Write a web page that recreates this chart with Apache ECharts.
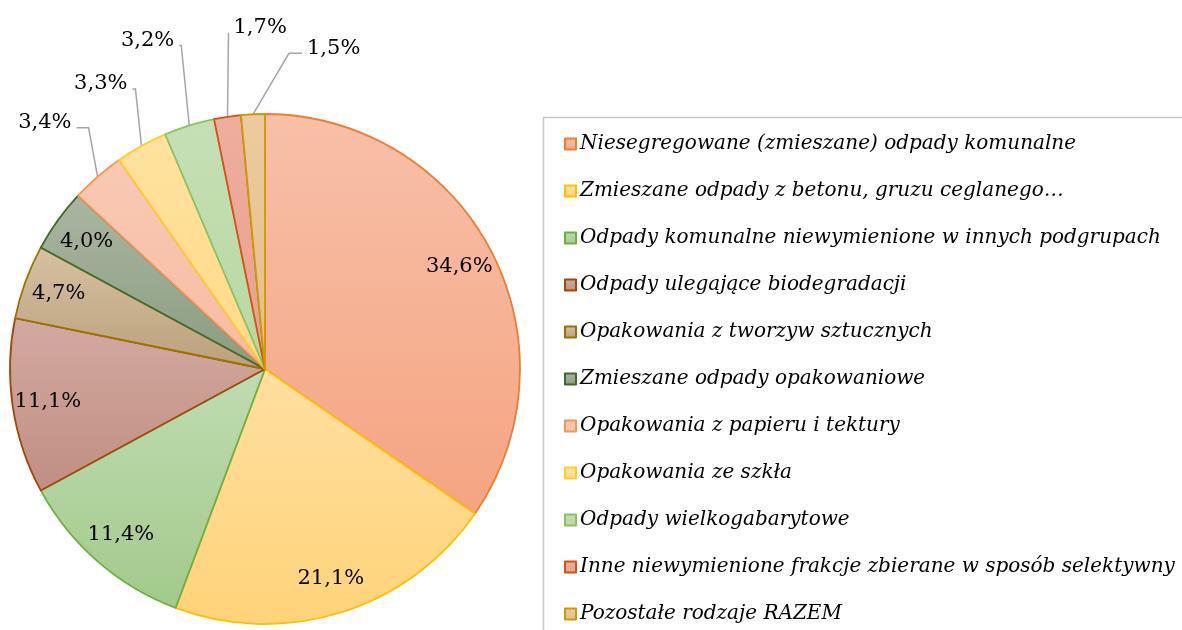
<!DOCTYPE html>
<html>
<head>
<meta charset="utf-8">
<script src="https://cdn.jsdelivr.net/npm/echarts@6/dist/echarts.min.js"></script>
<style>html,body{margin:0;padding:0;background:#fff}#c{width:1182px;height:630px}</style>
</head>
<body>
<div id="c"></div>
<script>
const categories = [
  'Niesegregowane (zmieszane) odpady komunalne',
  'Zmieszane odpady z betonu, gruzu ceglanego…',
  'Odpady komunalne niewymienione w innych podgrupach',
  'Odpady ulegające biodegradacji',
  'Opakowania z tworzyw sztucznych',
  'Zmieszane odpady opakowaniowe',
  'Opakowania z papieru i tektury',
  'Opakowania ze szkła',
  'Odpady wielkogabarytowe',
  'Inne niewymienione frakcje zbierane w sposób selektywny',
  'Pozostałe rodzaje RAZEM'
];
const values = [34.6, 21.1, 11.4, 11.1, 4.7, 4.0, 3.4, 3.3, 3.2, 1.7, 1.5];

const fillTop =    ['#F8C0A8','#FFDFA0','#C0DCB2','#D2AAA2','#D6C1A2','#AAB6A2','#F9C9B4','#FFE29E','#C6E0B6','#EEAE9E','#EDCB9E'];
const fillBottom = ['#F5A482','#FFD379','#A2CA8B','#C18E82','#BBA07B','#8A9C80','#F7BCA2','#FFDB88','#B6D8A0','#E9A08D','#E4BE8C'];
const borders =    ['#ED7D31','#FFC000','#70AD47','#9E480E','#997300','#43682B','#F1975A','#FFCD33','#8CC168','#D0541A','#CC9A06'];

// leader-line styling for the small outside labels: [elbow dx, elbow dy, horizontal run, side]
const leaderStyle = {
  6: [-9, -49, -12, 'right'],
  7: [-6, -57, -3, 'right'],
  8: [-8, -80, -2, 'right'],
  9: [1, -84, 0, 'left'],
  10: [36, -61, 13, 'left']
};

const fmt = v => v.toFixed(1).replace('.', ',') + '%';
const insideCount = 6;

const mainData = values.map((v, i) => ({
  name: categories[i],
  value: v,
  itemStyle: {
    color: {type:'linear', x:0, y:0, x2:0, y2:1, colorStops:[{offset:0,color:fillTop[i]},{offset:1,color:fillBottom[i]}]},
    borderColor: borders[i],
    borderWidth: 1.8
  },
  label: { show: i >= insideCount },
  labelLine: { show: i >= insideCount }
}));

const labelData = values.map((v, i) => ({
  name: categories[i],
  value: v,
  label: { show: i < insideCount }
}));

const chart = echarts.init(document.getElementById('c'), null, {renderer:'canvas'});
chart.setOption({
  animation: false,
  backgroundColor: '#fff',
  graphic: [{
    type: 'polyline',
    silent: true,
    shape: { points: [[1190, 117.5], [543.5, 117.5], [543.5, 640]] },
    style: { stroke: '#C8C8C8', lineWidth: 1.5, fill: null }
  }],
  legend: {
    data: categories,
    orient: 'vertical',
    left: 543,
    top: 117,
    height: 600,
    padding: [15, 0, 0, 21],
    icon: 'rect',
    itemWidth: 11,
    itemHeight: 11,
    itemGap: 23,
    selectedMode: false,
    textStyle: {
      fontFamily: 'DejaVu Serif',
      fontStyle: 'italic',
      fontSize: 20,
      lineHeight: 24,
      color: '#000',
      padding: [0,0,0,-1]
    }
  },
  series: [
    {
      type: 'pie',
      center: [265, 369],
      radius: 255,
      startAngle: 90,
      clockwise: true,
      silent: true,
      data: mainData,
      label: {
        position: 'outside',
        formatter: p => fmt(p.value),
        fontFamily: 'DejaVu Serif',
        fontSize: 21,
        color: '#000',
        overflow: 'none'
      },
      labelLine: {
        length: 30,
        length2: 10,
        lineStyle: { color: '#A6A6A6', width: 1.5 }
      },
      labelLayout: function (params) {
        const s = leaderStyle[params.dataIndex];
        if (!s || !params.labelLinePoints) return {};
        const p0 = params.labelLinePoints[0];
        const p1 = [p0[0] + s[0], p0[1] + s[1]];
        const p2 = [p1[0] + s[2], p1[1]];
        const gap = s[3] === 'right' ? -5 : 5;
        return {
          x: p2[0] + gap,
          y: p2[1] - 5,
          width: 80,
          align: s[3],
          verticalAlign: 'middle',
          labelLinePoints: [p0, p1, p2]
        };
      }
    },
    {
      type: 'pie',
      center: [265, 369],
      radius: [178, 255],
      startAngle: 90,
      clockwise: true,
      silent: true,
      data: labelData,
      itemStyle: { color: 'rgba(0,0,0,0)', borderWidth: 0 },
      label: {
        position: 'inside',
        formatter: p => fmt(p.value),
        fontFamily: 'DejaVu Serif',
        fontSize: 21,
        color: '#000'
      },
      labelLine: { show: false }
    }
  ]
});
</script>
</body>
</html>
